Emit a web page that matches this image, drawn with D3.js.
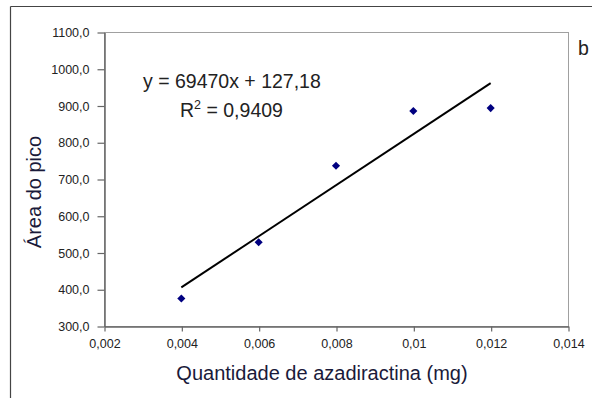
<!DOCTYPE html>
<html>
<head>
<meta charset="utf-8">
<script src="https://cdn.jsdelivr.net/npm/d3@7"></script>
<style>
  html, body { margin: 0; padding: 0; background: #fff; }
  svg { display: block; font-family: "Liberation Sans", Arial, sans-serif; }
</style>
</head>
<body>
<svg id="chart" width="592" height="398"></svg>
<script>
// Calibration data: amount of azadirachtin (mg) vs. peak area
const amounts = [0.004, 0.006, 0.008, 0.01, 0.012];
const peakAreas = [375, 528, 736, 885, 893];

// Linear fit reported on the chart
const slope = 69470;
const intercept = 127.18;
const rSquared = 0.9409;

const xTicks = [0.002, 0.004, 0.006, 0.008, 0.01, 0.012, 0.014];
const xTickLabels = ["0,002", "0,004", "0,006", "0,008", "0,01", "0,012", "0,014"];
const yTicks = [300, 400, 500, 600, 700, 800, 900, 1000, 1100];
const yTickLabels = ["300,0", "400,0", "500,0", "600,0", "700,0", "800,0", "900,0", "1000,0", "1100,0"];

const svg = d3.select("#chart");
const plot = { left: 104, top: 32, right: 568, bottom: 326 };

const x = d3.scaleLinear().domain([0.002, 0.014]).range([plot.left, plot.right]);
const y = d3.scaleLinear().domain([300, 1100]).range([plot.bottom, plot.top]);

// Outer chart frame (top and left edges)
svg.append("line").attr("x1", 10.5).attr("x2", 592).attr("y1", 6.5).attr("y2", 6.5)
  .attr("stroke", "#444").attr("stroke-width", 1.2);
svg.append("line").attr("x1", 10.5).attr("x2", 10.5).attr("y1", 6.5).attr("y2", 398)
  .attr("stroke", "#444").attr("stroke-width", 1.2);

// Plot area border
svg.append("rect")
  .attr("x", plot.left + 0.5).attr("y", plot.top + 0.5)
  .attr("width", plot.right - plot.left).attr("height", plot.bottom - plot.top)
  .attr("fill", "none").attr("stroke", "#a0a0a0");

// Axes
const xAxis = d3.axisBottom(x).tickValues(xTicks)
  .tickFormat((d, i) => xTickLabels[i]).tickSizeOuter(0).tickSizeInner(5).tickPadding(8);
const yAxis = d3.axisLeft(y).tickValues(yTicks)
  .tickFormat((d, i) => yTickLabels[i]).tickSizeOuter(0).tickSizeInner(7).tickPadding(8);

const gx = svg.append("g").attr("transform", `translate(0.5,${plot.bottom + 0.5})`).call(xAxis);
const gy = svg.append("g").attr("transform", `translate(${plot.left + 0.5},0.5)`).call(yAxis);

[gx, gy].forEach(g => {
  g.select(".domain").attr("stroke", "#666").attr("stroke-width", 1.5);
  g.selectAll(".tick line").attr("stroke", "#666").attr("stroke-width", 1.2);
  g.selectAll(".tick text").attr("fill", "#222")
    .style("font-family", "'Liberation Sans', Arial, sans-serif").style("font-size", "12.5px");
});

// Regression line over the measured range
const xMin = d3.min(amounts), xMax = d3.max(amounts);
svg.append("line")
  .attr("x1", x(xMin)).attr("y1", y(slope * xMin + intercept))
  .attr("x2", x(xMax)).attr("y2", y(slope * xMax + intercept))
  .attr("stroke", "#000").attr("stroke-width", 2);

// Data points as navy diamonds
svg.selectAll("path.pt")
  .data(amounts.map((a, i) => [a, peakAreas[i]]))
  .join("path")
  .attr("class", "pt")
  .attr("transform", d => `translate(${x(d[0])},${y(d[1])})`)
  .attr("d", d3.symbol(d3.symbolDiamond2, 42))
  .attr("fill", "#000080");

// Equation and coefficient of determination
const fmt = v => String(v).replace(".", ",");
svg.append("text").attr("x", 143).attr("y", 88)
  .attr("fill", "#222").style("font-size", "19.5px")
  .text(`y = ${slope}x + ${fmt(intercept)}`);
const r2 = svg.append("text").attr("x", 180).attr("y", 117)
  .attr("fill", "#222").style("font-size", "19.5px");
r2.append("tspan").text("R");
r2.append("tspan").attr("dy", -8).style("font-size", "12.5px").text("2");
r2.append("tspan").attr("dy", 8).text(` = ${fmt(rSquared)}`);

// Panel letter
svg.append("text").attr("x", 578).attr("y", 55)
  .attr("fill", "#222").style("font-size", "19.5px").text("b");

// Axis titles
svg.append("text")
  .attr("x", 322).attr("y", 380)
  .attr("text-anchor", "middle").attr("fill", "#1a1a3a").style("font-size", "20px")
  .text("Quantidade de azadiractina (mg)");
svg.append("text")
  .attr("transform", `translate(41,192) rotate(-90)`)
  .attr("text-anchor", "middle").attr("fill", "#1a1a3a").style("font-size", "20px")
  .text("Área do pico");
</script>
</body>
</html>
